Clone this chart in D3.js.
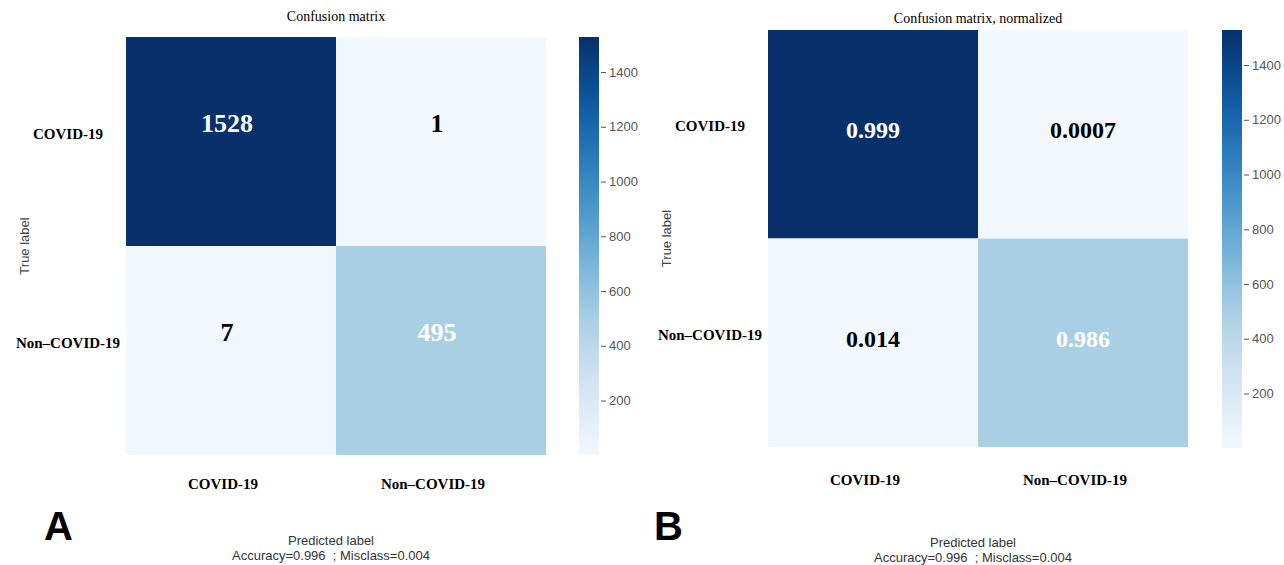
<!DOCTYPE html>
<html>
<head>
<meta charset="utf-8">
<script src="https://cdn.jsdelivr.net/npm/d3@7"></script>
<style>
  body { margin: 0; background: #fff; }
  svg { display: block; }
</style>
</head>
<body>
<svg class="cm" width="1284" height="565"></svg>
<script>
// data
var categories = ["COVID-19", "Non\u2013COVID-19"];
var counts = [[1528, 1], [7, 495]];
var normalized = [["0.999", "0.0007"], ["0.014", "0.986"]];
var colorbarTicks = [200, 400, 600, 800, 1000, 1200, 1400];
var countRange = [1, 1528];
var titles = ["Confusion matrix", "Confusion matrix, normalized"];
var panelLetters = ["A", "B"];
var footer = "Accuracy=0.996  ; Misclass=0.004";

var svg = d3.select(".cm");

var cellData = function(labels){
  var out = [];
  counts.forEach(function(row, i){
    row.forEach(function(v, j){
      out.push({row: categories[i], col: categories[j], count: v, label: labels[i][j]});
    });
  });
  return out;
};

var color = function(v){
  return d3.interpolateBlues(d3.scaleLinear().domain(countRange).range([0.02, 1])(v));
};

var drawPanel = function(p){
  var g = svg.append("g");

  var x = d3.scaleBand().domain(categories).range([p.left, p.right]);
  var y = d3.scaleBand().domain(categories).range([p.top, p.bottom]);

  g.selectAll("rect.cell")
    .data(p.cells)
    .enter().append("rect")
    .attr("class", "cell")
    .attr("x", function(d){ return x(d.col); })
    .attr("y", function(d){ return y(d.row); })
    .attr("width", x.bandwidth())
    .attr("height", y.bandwidth())
    .attr("fill", function(d){ return color(d.count); });

  g.selectAll("text.val")
    .data(p.cells)
    .enter().append("text")
    .attr("class", "val")
    .attr("x", function(d){ return x(d.col) + x.bandwidth() / 2 + p.valDx; })
    .attr("y", function(d){ return y(d.row) + y.bandwidth() / 2 + p.valDy; })
    .attr("text-anchor", "middle")
    .attr("dominant-baseline", "central")
    .attr("font-family", "Liberation Serif, serif")
    .attr("font-weight", "bold")
    .attr("font-size", p.valSize)
    .attr("fill", function(d){ return d.count > 400 ? "#fff" : "#000"; })
    .text(function(d){ return d.label; });

  // row labels
  g.selectAll("text.rowlab")
    .data(categories)
    .enter().append("text")
    .attr("x", p.left - 58)
    .attr("y", function(d){ return y(d) + y.bandwidth() / 2 - 8; })
    .attr("text-anchor", "middle")
    .attr("dominant-baseline", "central")
    .attr("font-family", "Liberation Serif, serif")
    .attr("font-weight", "bold")
    .attr("font-size", 15)
    .text(function(d){ return d; });

  // column labels
  g.selectAll("text.collab")
    .data(categories)
    .enter().append("text")
    .attr("x", function(d){ return x(d) + x.bandwidth() / 2 - 8; })
    .attr("y", p.bottom + p.colDy)
    .attr("text-anchor", "middle")
    .attr("dominant-baseline", "central")
    .attr("font-family", "Liberation Serif, serif")
    .attr("font-weight", "bold")
    .attr("font-size", 15)
    .text(function(d){ return d; });

  g.append("text")
    .attr("x", (p.left + p.right) / 2)
    .attr("y", p.titleY)
    .attr("text-anchor", "middle")
    .attr("font-family", "Liberation Serif, serif")
    .attr("font-size", 14)
    .text(p.title);

  g.append("text")
    .attr("transform", "translate(" + (p.left - 97) + "," + ((p.top + p.bottom) / 2) + ") rotate(-90)")
    .attr("text-anchor", "middle")
    .attr("font-family", "Liberation Sans, sans-serif")
    .attr("font-size", 13)
    .attr("fill", "#444")
    .text("True label");

  g.append("text")
    .attr("x", p.left + 205)
    .attr("y", p.footY)
    .attr("text-anchor", "middle")
    .attr("font-family", "Liberation Sans, sans-serif")
    .attr("font-size", 13)
    .attr("fill", "#333")
    .text("Predicted label");

  g.append("text")
    .attr("x", p.left + 205)
    .attr("y", p.footY + 15)
    .attr("text-anchor", "middle")
    .attr("font-family", "Liberation Sans, sans-serif")
    .attr("font-size", 13)
    .attr("fill", "#333")
    .attr("xml:space", "preserve")
    .text(footer);

  g.append("text")
    .attr("x", p.letterX)
    .attr("y", 540)
    .attr("font-family", "Liberation Sans Narrow, Liberation Sans, sans-serif")
    .attr("font-weight", "bold")
    .attr("font-size", 40)
    .attr("fill", "#000")
    .text(p.letter);

  // colorbar
  var gid = "grad" + p.letter;
  var grad = svg.append("defs").append("linearGradient")
    .attr("id", gid)
    .attr("x1", 0).attr("y1", 1).attr("x2", 0).attr("y2", 0);
  d3.range(0, 1.0001, 0.1).forEach(function(t){
    grad.append("stop")
      .attr("offset", t)
      .attr("stop-color", color(countRange[0] + t * (countRange[1] - countRange[0])));
  });

  var cy = d3.scaleLinear().domain(countRange).range([p.cbBottom, p.cbTop]);
  g.append("rect")
    .attr("x", p.cbX)
    .attr("y", p.cbTop)
    .attr("width", 20)
    .attr("height", p.cbBottom - p.cbTop)
    .attr("fill", "url(#" + gid + ")");

  var axis = d3.axisRight(cy).tickValues(colorbarTicks).tickFormat(d3.format("d"))
    .tickSize(5).tickPadding(3);
  var ag = g.append("g")
    .attr("transform", "translate(" + (p.cbX + 22) + ",0)")
    .call(axis);
  ag.select(".domain").remove();
  ag.selectAll("line").attr("stroke", "#555");
  ag.selectAll("text")
    .attr("font-family", "Liberation Sans, sans-serif")
    .attr("font-size", 13)
    .attr("fill", "#555");
};

drawPanel({
  left: 126, right: 546, top: 37, bottom: 455,
  cells: cellData(counts.map(function(r){ return r.map(String); })),
  valDx: -4, valDy: -18, valSize: 26, colDy: 29, titleY: 21,
  title: titles[0], letter: panelLetters[0], letterX: 44, footY: 545,
  cbX: 579, cbTop: 37, cbBottom: 455
});

drawPanel({
  left: 768, right: 1188, top: 30, bottom: 447,
  cells: cellData(normalized),
  valDx: 0, valDy: -4, valSize: 24, colDy: 33, titleY: 23,
  title: titles[1], letter: panelLetters[1], letterX: 654, footY: 547,
  cbX: 1222, cbTop: 30, cbBottom: 448
});
</script>
</body>
</html>
